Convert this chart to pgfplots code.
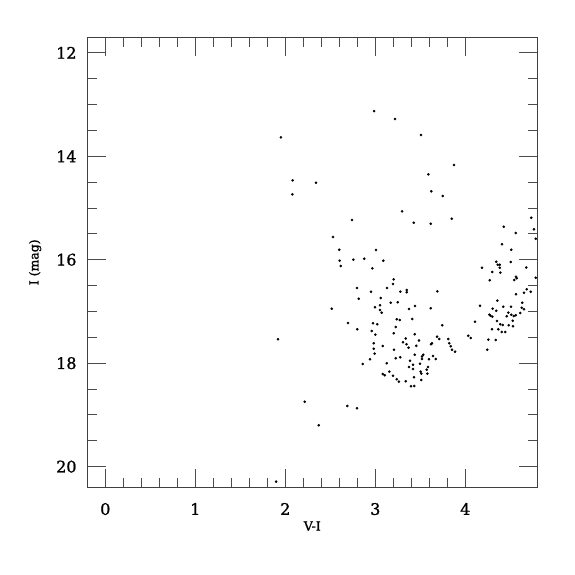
\documentclass[border=0pt]{standalone}
\usepackage{fontspec}
\setmainfont{DejaVu Serif}[BoldFont={DejaVu Serif},BoldFeatures={FakeBold=1.2}]
\usepackage{pgfplots}
\pgfplotsset{compat=1.18}
\begin{document}
\begin{tikzpicture}[x=1bp,y=1bp]
\path (0,0) rectangle (575,575);
\begin{axis}[
  at={(87.3bp,87.7bp)}, anchor=south west,
  scale only axis, width=450bp, height=450bp,
  xmin=-0.2, xmax=4.8, ymin=11.7, ymax=20.4,
  y dir=reverse,
  xtick={0,1,2,3,4}, ytick={12,14,16,18,20},
  minor x tick num=4, minor y tick num=3,
  tick align=inside,
  major tick length=18.7bp, minor tick length=9.3bp,
  axis line style={draw=black!75, line width=0.8bp},
  every tick/.style={draw=black!70, line width=0.8bp},
  /pgf/number format/assume math mode=true,
  tick label style={font=\fontsize{16}{16}\selectfont\bfseries},
  xticklabel style={inner sep=0pt, yshift=-15.5bp},
  yticklabel style={inner sep=0pt, xshift=-10.6bp},
  label style={font=\fontsize{12.5}{13}\selectfont\bfseries},
  xlabel={V-I}, ylabel={I (mag)},
  xlabel style={at={(axis description cs:0.5,-0.086)}, anchor=center},
  ylabel style={at={(axis description cs:-0.116,0.5)}, anchor=center},
]
\addplot[only marks, mark=*, mark size=1.1bp, black] coordinates {
(2.986,13.127) (3.219,13.281) (1.952,13.635) (2.082,14.466) (2.341,14.512)
(2.078,14.736) (3.508,13.590) (3.874,14.170) (3.589,14.350) (3.622,14.678)
(3.749,14.769) (3.297,15.065) (2.741,15.233) (3.427,15.285) (3.616,15.304)
(3.849,15.208) (2.530,15.561) (2.600,15.807) (3.008,15.813) (2.756,16.000)
(2.878,15.981) (2.604,16.019) (3.089,16.019) (2.616,16.122) (2.967,16.166)
(3.204,16.379) (3.197,16.470) (2.797,16.547) (2.952,16.618) (3.130,16.547)
(3.278,16.618) (3.349,16.586) (3.349,16.630) (2.816,16.754) (3.060,16.740)
(3.171,16.831) (3.249,16.823) (2.516,16.947) (2.997,16.920) (3.052,16.881)
(3.052,16.972) (3.071,17.024) (3.374,16.953) (3.238,17.152) (3.271,17.165)
(2.697,17.223) (2.974,17.229) (3.022,17.248) (3.227,17.300) (2.800,17.345)
(2.960,17.378) (3.000,17.449) (3.204,17.422) (1.919,17.538) (2.982,17.615)
(3.082,17.668) (3.338,17.523) (3.308,17.596) (3.347,17.635) (3.369,17.700)
(2.982,17.722) (3.208,17.739) (3.438,17.442) (3.486,17.561) (3.456,17.664)
(2.993,17.816) (2.941,17.925) (2.860,18.015) (3.227,17.905) (3.278,17.886)
(3.438,17.838) (3.533,17.836) (3.519,17.871) (3.386,17.952) (3.519,17.919)
(3.597,17.925) (3.127,18.002) (3.419,18.029) (3.374,18.073) (3.419,18.112)
(3.497,18.010) (3.586,18.073) (3.571,18.126) (3.156,18.164) (3.082,18.209)
(3.104,18.234) (3.197,18.242) (3.504,18.164) (3.511,18.203) (3.578,18.203)
(3.238,18.311) (3.263,18.357) (3.338,18.350) (3.430,18.272) (3.511,18.325)
(3.397,18.446) (3.433,18.441) (2.216,18.744) (2.689,18.827) (2.797,18.872)
(2.371,19.200) (1.897,20.290)
(3.689,16.611) (3.616,16.939) (3.744,17.268) (3.686,17.488) (3.711,17.532)
(3.811,17.532) (3.619,17.635) (3.630,17.615) (3.822,17.615) (3.838,17.673)
(3.852,17.739) (3.886,17.778) (3.641,17.861) (3.671,17.919) (4.033,17.469)
(4.060,17.513) (4.108,17.198) (4.244,17.739) (3.411,17.146) (3.441,16.895)
(4.163,16.889) (4.186,16.155) (4.271,16.398) (4.300,16.238) (4.344,16.039)
(4.360,16.097) (4.382,16.097) (4.382,16.155) (4.389,16.250) (4.504,16.044)
(4.408,15.702) (4.511,15.807) (4.427,15.362) (4.560,15.484) (4.733,15.188)
(4.763,15.413) (4.782,15.594) (4.678,16.151) (4.563,16.329) (4.571,16.359)
(4.544,16.392) (4.782,16.348) (4.727,16.618) (4.682,16.572) (4.652,16.638)
(4.563,16.669) (4.356,16.792) (4.633,16.831) (4.422,16.908) (4.508,16.908)
(4.627,16.928) (4.652,16.958) (4.304,16.947) (4.344,16.986) (4.478,17.024)
(4.511,17.063) (4.538,17.088) (4.560,17.074) (4.267,17.063) (4.278,17.082)
(4.300,17.101) (4.460,17.094) (4.611,17.030) (4.352,17.185) (4.527,17.179)
(4.389,17.248) (4.416,17.262) (4.482,17.268) (4.530,17.287) (4.297,17.345)
(4.367,17.345) (4.404,17.397) (4.444,17.397) (4.256,17.546) (4.338,17.552)
};
\end{axis}
\end{tikzpicture}
\end{document}
